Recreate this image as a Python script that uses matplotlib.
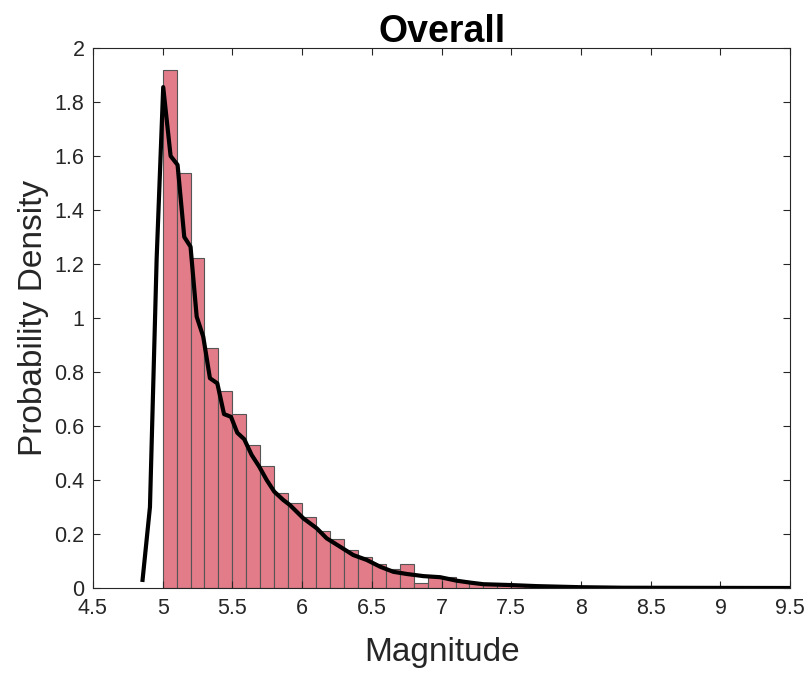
import numpy as np
import matplotlib
matplotlib.use("Agg")
import matplotlib.pyplot as plt

plt.rcParams['font.family'] = ['Liberation Sans', 'DejaVu Sans']

# histogram (bin width 0.1, density)
bin_left = [5.0, 5.1, 5.2, 5.3, 5.4, 5.5, 5.6, 5.7, 5.8, 5.9,
            6.0, 6.1, 6.2, 6.3, 6.4, 6.5, 6.6, 6.7, 6.8, 6.9,
            7.0, 7.1, 7.2, 7.3, 7.4, 7.5, 7.6, 7.7, 7.8, 7.9,
            8.0, 8.1, 8.2, 8.3, 8.4, 8.5]
density = [1.92, 1.537, 1.222, 0.888, 0.730, 0.644, 0.531, 0.453, 0.353, 0.315,
           0.264, 0.212, 0.181, 0.139, 0.116, 0.089, 0.069, 0.089, 0.017, 0.042,
           0.040, 0.027, 0.020, 0.014, 0.011, 0.009, 0.007, 0.006, 0.004, 0.003,
           0.003, 0.002, 0.002, 0.001, 0.001, 0.001]

# smoothed density curve
kde_x = [4.856, 4.909, 4.957, 5.004, 5.057, 5.107, 5.155, 5.200, 5.244, 5.291,
         5.339, 5.392, 5.440, 5.490, 5.535, 5.585, 5.638, 5.693, 5.746, 5.800,
         5.865, 5.913, 5.960, 6.009, 6.105, 6.176, 6.272, 6.367, 6.463, 6.559,
         6.654, 6.750, 6.870, 6.990, 7.109, 7.205, 7.300, 7.490, 7.680, 7.990,
         8.300, 9.500]
kde_y = [0.03, 0.30, 1.22, 1.855, 1.60, 1.567, 1.30, 1.264, 1.005, 0.931,
         0.777, 0.758, 0.644, 0.634, 0.575, 0.551, 0.493, 0.449, 0.400, 0.357,
         0.326, 0.307, 0.283, 0.258, 0.221, 0.184, 0.153, 0.122, 0.104, 0.079,
         0.060, 0.052, 0.044, 0.040, 0.027, 0.020, 0.014, 0.011, 0.007, 0.003,
         0.001, 0.0]

xticks = [4.5, 5, 5.5, 6, 6.5, 7, 7.5, 8, 8.5, 9, 9.5]
yticks = [0, 0.2, 0.4, 0.6, 0.8, 1, 1.2, 1.4, 1.6, 1.8, 2]

fig = plt.figure(figsize=(8.08, 6.73), dpi=100)
ax = fig.add_axes([0.115, 0.1263, 0.863, 0.8024])

ax.bar(bin_left, density, width=0.1, align='edge', color='#E27C88',
       edgecolor='#555555', linewidth=0.8)
ax.plot(kde_x, kde_y, color='black', linewidth=3)

ax.set_xlim(4.5, 9.5)
ax.set_ylim(0, 2)
ax.set_xticks(xticks)
ax.set_xticklabels(['%g' % t for t in xticks])
ax.set_yticks(yticks)
ax.set_yticklabels(['%g' % t for t in yticks])

ax.tick_params(direction='in', length=5, width=0.8, colors='#262626',
               labelsize=15.5, top=True, right=True, labeltop=False, labelright=False)
ax.tick_params(axis='x', pad=7)
ax.tick_params(axis='y', pad=6)
for s in ax.spines.values():
    s.set_color('#262626')
    s.set_linewidth(0.8)

ax.set_xlabel('Magnitude', fontsize=24, color='#262626', labelpad=13)
ax.set_ylabel('Probability Density', fontsize=24, color='#262626', labelpad=4)
ax.set_title('Overall', fontsize=27, fontweight='bold', pad=4)

fig.savefig('out.png', dpi=100)
